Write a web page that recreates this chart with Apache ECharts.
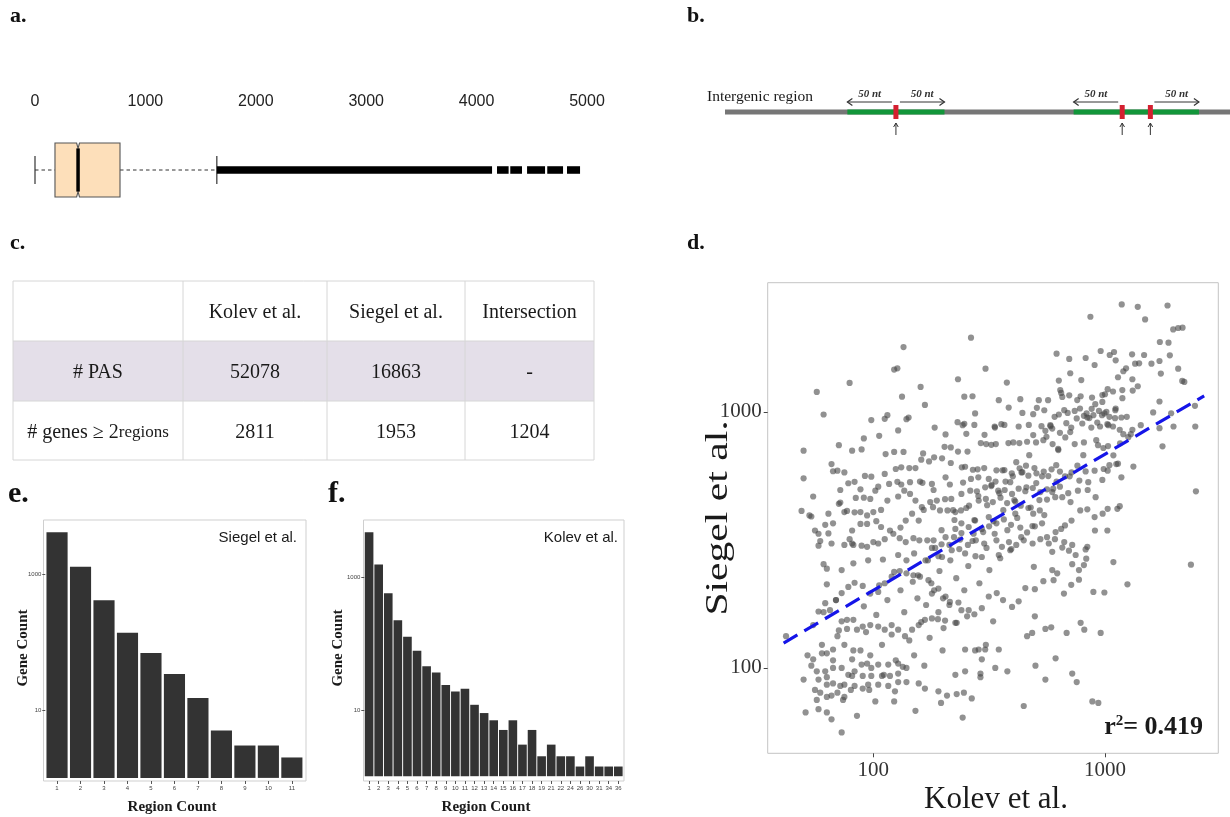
<!DOCTYPE html>
<html>
<head>
<meta charset="utf-8">
<script src="https://cdn.jsdelivr.net/npm/echarts@6/dist/echarts.min.js"></script>
<style>
  html, body { margin: 0; padding: 0; background: #ffffff; }
  #main { width: 1230px; height: 817px; }
</style>
</head>
<body>
<div id="main"></div>
<script>
// ---------- a. distance distribution (box summary and outlier runs) ----------
const boxStats = [0, 181, 390, 770, 1647];        // lower whisker, Q1, median, Q3, upper whisker
const notchRange = [377, 403];
const outlierRuns = [[1647, 4140], [4185, 4290], [4305, 4411], [4457, 4620], [4640, 4783], [4819, 4937]];

// ---------- b. PAS windows on an intergenic region (nt) ----------
const regionLengthNt = 520;
const pasSitesNt = [176, 409, 438];
const windowNt = 50;
const windowArrows = [[176, -1], [176, 1], [409, -1], [438, 1]];

// ---------- c. summary table ----------
const tableHeader = ['', 'Kolev et al.', 'Siegel et al.', 'Intersection'];
const pasRow = ['# PAS', '52078', '16863', '-'];
const genesRow = ['# genes \u2265 2', '2811', '1953', '1204'];

// ---------- e. Siegel et al. region counts ----------
const siegelRegionCounts = ['1', '2', '3', '4', '5', '6', '7', '8', '9', '10', '11'];
const siegelGeneCounts = [4160, 1290, 414, 138, 69, 34, 15, 5, 3, 3, 2];

// ---------- f. Kolev et al. region counts ----------
const kolevRegionCounts = ['1', '2', '3', '4', '5', '6', '7', '8', '9', '10', '11', '12', '13', '14', '15', '16',
  '17', '18', '19', '21', '22', '24', '26', '30', '31', '34', '36'];
const kolevGeneCounts = [4850, 1590, 581, 227, 128, 79, 46, 37, 24, 19, 21, 12, 9, 7, 5, 7,
  3, 5, 2, 3, 2, 2, 1.4, 2, 1.4, 1.4, 1.4];

// ---------- d. per-gene read counts, [Kolev et al., Siegel et al.] ----------
const pairedCounts = [
[1181,2626],[1385,2570],[1862,2600],[865,2350],[1490,2295],[2162,2130],[2070,2124],[1970,2098],[264,1947],[1725,1873],
[1880,1862],[1905,1661],[135,1790],[618,1686],[701,1608],[825,1622],[958,1727],[1048,1666],[1094,1712],[1309,1676],
[1475,1666],[1112,1589],[902,1523],[1349,1541],[1404,1546],[1587,1541],[1719,1579],[1233,1478],[1200,1440],[1742,1410],
[2070,1474],[127,1478],[123,1461],[305,1474],[708,1414],[1138,1364],[1313,1340],[1385,1258],[2155,1320],[2200,1308],
[232,1340],[377,1300],[79,1296],[632,1324],[57,1196],[160,1250],[1027,1225],[1083,1200],[1000,1171],[1317,1210],
[1719,1097],[133,1146],[247,1146],[268,1150],[431,1120],[518,1110],[568,1110],[647,1185],[654,1143],[701,1160],
[785,1150],[879,1136],[908,1071],[974,1093],[1189,1130],[2445,1055],[348,1110],[167,1064],[61,976],[1930,987],
[1614,994],[1112,1030],[1014,1000],[942,1008],[876,1027],[833,985],[811,964],[780,1030],[740,1008],[690,990],
[632,976],[606,956],[547,1014],[508,1036],[490,979],[440,990],[384,1039],[275,985],[273,889],[247,898],
[231,911],[243,887],[334,876],[357,895],[368,889],[469,889],[532,879],[582,879],[681,903],[755,942],
[798,900],[839,950],[891,970],[926,908],[971,970],[994,985],[1045,956],[1105,944],[1177,950],[1242,956],
[1427,887],[1313,851],[1200,818],[1158,851],[1083,876],[1024,895],[952,876],[873,868],[715,868],[639,828],
[592,860],[553,843],[490,811],[424,876],[335,868],[302,813],[252,820],[205,816],[184,868],[142,950],
[139,936],[115,970],[112,939],[98,928],[128,846],[106,806],[91,787],[71,741],[81,705],[89,713],
[50,705],[113,684],[123,697],[135,697],[164,688],[203,730],[216,726],[232,699],[255,699],[291,755],
[307,748],[323,743],[338,748],[383,755],[402,759],[427,755],[461,764],[504,759],[559,799],[594,748],
[628,716],[674,794],[740,748],[811,759],[933,741],[984,722],[1031,735],[1087,676],[1138,627],[1771,733],
[1976,876],[2453,876],[1719,863],[1292,818],[1162,753],[1326,611],[1045,619],[987,598],[902,589],[825,585],
[760,616],[704,560],[639,584],[588,596],[544,584],[496,603],[456,616],[428,602],[396,575],[361,591],
[340,591],[301,603],[282,596],[269,594],[249,610],[241,607],[216,631],[198,658],[183,664],[174,640],
[161,650],[152,603],[143,603],[132,607],[125,598],[112,572],[98,558],[92,562],[83,533],[78,526],
[72,495],[70,589],[66,625],[67,586],[75,580],[50,550],[55,467],[49,410],[54,390],[88,498],
[84,461],[91,462],[97,457],[102,492],[105,510],[117,523],[127,533],[132,520],[144,531],[159,534],
[163,528],[179,523],[182,495],[205,555],[214,520],[244,529],[264,547],[284,555],[315,547],[337,534],
[372,534],[400,560],[436,580],[467,563],[506,575],[535,560],[618,534],[672,560],[717,580],[775,539],
[847,531],[911,464],[974,542],[1027,589],[1119,625],[1177,555],[2469,489],[842,495],[764,492],[694,481],
[639,510],[598,501],[562,498],[526,486],[488,504],[458,507],[424,501],[397,478],[369,495],[346,492],
[324,518],[304,507],[280,489],[262,492],[240,478],[217,457],[204,456],[188,450],[176,444],[162,424],
[152,450],[144,478],[136,492],[128,467],[115,450],[108,414],[100,406],[94,394],[88,406],[83,405],
[75,406],[71,437],[72,442],[64,400],[62,362],[58,334],[56,344],[53,394],[64,335],[67,367],
[77,410],[81,344],[79,318],[88,365],[94,365],[103,374],[108,355],[118,344],[131,353],[138,376],
[147,400],[157,376],[165,414],[181,424],[194,412],[209,412],[226,406],[239,412],[259,430],[285,450],
[306,457],[328,444],[354,462],[378,440],[410,446],[433,430],[478,423],[523,412],[562,454],[610,464],
[654,464],[710,444],[782,412],[839,416],[902,388],[977,400],[1027,418],[1131,418],[1158,428],[1024,344],
[905,344],[717,376],[672,360],[647,349],[612,339],[562,324],[535,367],[498,357],[461,338],[431,353],
[393,362],[366,380],[340,367],[316,357],[294,349],[271,334],[258,355],[240,367],[226,349],[205,324],
[197,304],[179,294],[171,315],[158,315],[149,321],[138,310],[130,321],[122,334],[112,318],[105,306],
[100,310],[94,297],[89,300],[82,302],[75,302],[66,306],[58,300],[839,297],[722,302],[667,310],
[608,318],[572,306],[526,318],[487,306],[446,315],[414,302],[385,310],[359,297],[334,334],[301,306],
[277,315],[256,302],[237,317],[223,324],[315,388],[275,376],[410,400],[490,400],
[42,133],[61,254],[63,244],[59,313],[81,306],[592,284],[654,295],[699,287],[747,276],[825,290],
[830,267],[1087,259],[2349,253],[1250,212],[891,198],[994,197],[665,195],[715,211],[772,221],[600,220],
[542,218],[498,203],[453,205],[424,182],[397,173],[363,184],[341,196],[315,190],[294,171],[273,162],
[258,168],[233,180],[214,181],[200,187],[191,204],[179,195],[173,220],[159,227],[148,217],[139,234],
[130,239],[120,227],[112,214],[105,198],[97,195],[90,209],[83,215],[78,207],[73,196],[69,184],
[65,168],[62,179],[58,166],[63,212],[73,241],[82,256],[95,263],[110,265],[128,276],[150,280],
[172,263],[191,273],[218,288],[249,280],[294,271],[348,276],[390,288],[493,248],[592,241],[622,234],
[722,254],[811,252],[772,241],[498,159],[461,133],[485,137],[553,142],[586,144],[683,137],[785,150],
[814,141],[958,137],[329,152],[306,123],[285,118],[275,117],[304,118],[348,118],[294,108],[249,118],
[254,159],[229,150],[204,153],[190,155],[179,156],[167,154],[157,147],[147,141],[137,133],[128,141],
[120,135],[112,141],[105,145],[97,147],[90,145],[85,141],[77,142],[70,133],[73,152],[82,154],
[75,123],[67,118],[63,114],[60,114],[52,112],[55,108],[57,97],[62,97],[67,100],[73,100],
[81,108],[83,97],[89,103],[94,104],[97,112],[105,103],[116,103],[128,104],[134,101],[139,100],
[128,95],[118,93],[109,93],[98,93],[90,93],[81,93],[75,86],[72,85],[67,87],[63,92],
[58,90],[56,82],[59,80],[63,77],[66,78],[70,80],[75,77],[83,85],[90,83],[95,86],
[105,86],[116,85],[124,81],[139,88],[157,87],[167,83],[191,81],[208,78],[229,79],[246,80],
[266,76],[226,94],[249,97],[290,95],[290,92],[336,100],[379,97],[501,102],[553,90],[612,109],
[722,95],[755,88],[446,71],[936,73],[58,69],[63,67],[73,56],[102,74],[123,74],[152,68],
[196,73],[243,64],[882,74],
[178,214],[193,239],[205,190],[215,263],[228,224],[235,291],[247,201],[257,250],[268,313],[276,273],
[287,214],[298,339],[308,294],[317,241],[330,374],[340,315],[353,268],[364,413],[379,345],[394,291],
[406,452],[418,385],[435,324],[453,490],[467,421],[486,358],[505,527],[521,452],[547,395],[569,561],
[592,486],[616,619],[240,336],[273,378],[310,432],[350,481],[390,531],[440,581],[213,302],[198,271],
[185,294],[224,378],[252,421],[284,469],[323,513],[368,592],[414,636],[471,677],[197,345],[221,413],
[168,263],[156,230],[182,315],
[88,117],[93,138],[98,100],[103,161],[109,123],[115,184],[120,147],[125,107],[131,201],[136,165],
[143,128],[149,230],[155,187],[161,151],[169,176],[175,131],[183,201],[191,165],[201,143],[91,174],
[106,210],[123,237],[139,263],[96,82],[111,94],[128,88],[150,112],[166,102],[199,117],[213,176],
[226,150],[240,168],
[50,90],[54,102],[57,75],[60,123],[63,86],[67,107],[71,140],[74,75],[78,94],[82,117],
[85,65],[55,147],[61,165],[69,184],[77,154],[51,67],[66,63],[80,82],
[542,775],[581,887],[629,709],[667,1015],[708,833],[759,1111],[806,677],[856,945],[917,775],[974,1162],
[1034,887],[1108,1015],[1188,1216],[1261,796],[641,1216],[790,1330]
];
const fitLine = [[41, 125], [2680, 1154]];
const rSquared = '0.419';

// ---------- drawing ----------
const SERIF = '"Liberation Serif", "Times New Roman", serif';
const SANS = '"Liberation Sans", Arial, sans-serif';
const plainNumber = v => String(Math.round(v));

function mergedWindows(sites, w) {
  const spans = sites.map(s => [s - w, s + w]).sort((a, b) => a[0] - b[0]);
  const out = [];
  spans.forEach(sp => {
    const last = out[out.length - 1];
    if (last && sp[0] <= last[1]) last[1] = Math.max(last[1], sp[1]);
    else out.push(sp.slice());
  });
  return out;
}

function renderBox(params, api) {
  const cat = api.value(7);
  const v = [0, 1, 2, 3, 4, 5, 6].map(i => api.value(i));
  const [low, q1, med, q3, high, nLo, nHi] = v;
  const X = val => api.coord([val, cat])[0];
  const cy = api.coord([0, cat])[1];
  const band = api.size([0, 1])[1];
  const h = band * 0.3, cap = band * 0.155, inset = band * 0.06;
  const dash = { stroke: '#333', lineWidth: 1, lineDash: [3.5, 3] };
  const solid = { stroke: '#333', lineWidth: 1.2 };
  return {
    type: 'group',
    children: [
      { type: 'line', shape: { x1: X(low), y1: cy, x2: X(q1), y2: cy }, style: dash },
      { type: 'line', shape: { x1: X(low), y1: cy - cap, x2: X(low), y2: cy + cap }, style: solid },
      { type: 'line', shape: { x1: X(q3), y1: cy, x2: X(high), y2: cy }, style: dash },
      { type: 'line', shape: { x1: X(high), y1: cy - cap, x2: X(high), y2: cy + cap }, style: solid },
      {
        type: 'polygon',
        shape: { points: [
          [X(q1), cy - h], [X(nLo), cy - h], [X(med), cy - h + inset], [X(nHi), cy - h], [X(q3), cy - h],
          [X(q3), cy + h], [X(nHi), cy + h], [X(med), cy + h - inset], [X(nLo), cy + h], [X(q1), cy + h]
        ] },
        style: { fill: '#FDDFBA', stroke: '#555', lineWidth: 1.1 }
      },
      { type: 'line', shape: { x1: X(med), y1: cy - h + inset, x2: X(med), y2: cy + h - inset },
        style: { stroke: '#000', lineWidth: 3.5 } }
    ]
  };
}

function renderOutlierRun(params, api) {
  const cat = api.value(2);
  const x1 = api.coord([api.value(0), cat])[0];
  const x2 = api.coord([api.value(1), cat])[0];
  const cy = api.coord([0, cat])[1];
  const band = api.size([0, 1])[1];
  const hh = band * 0.042;
  return { type: 'rect', shape: { x: x1, y: cy - hh, width: x2 - x1, height: hh * 2 }, style: { fill: '#000' } };
}

function renderRegion(params, api) {
  const X = nt => api.coord([nt, 0])[0];
  const cy = api.coord([0, 0])[1];
  const kids = [];
  kids.push({ type: 'rect', shape: { x: X(0), y: cy - 2.6, width: X(regionLengthNt) - X(0), height: 5.2 },
    style: { fill: '#767676' } });
  mergedWindows(pasSitesNt, windowNt).forEach(w => {
    kids.push({ type: 'rect', shape: { x: X(w[0]), y: cy - 2.6, width: X(w[1]) - X(w[0]), height: 5.2 },
      style: { fill: '#12963a' } });
  });
  pasSitesNt.forEach(s => {
    const x = X(s);
    kids.push({ type: 'rect', shape: { x: x - 2.5, y: cy - 7, width: 5, height: 14 }, style: { fill: '#d42030' } });
    kids.push({ type: 'line', shape: { x1: x, y1: cy + 23, x2: x, y2: cy + 11 }, style: { stroke: '#333', lineWidth: 1 } });
    kids.push({ type: 'polyline', shape: { points: [[x - 2.3, cy + 15], [x, cy + 11], [x + 2.3, cy + 15]] },
      style: { stroke: '#333', lineWidth: 1, fill: null } });
  });
  windowArrows.forEach(([s, dir]) => {
    const xs = X(s) + dir * 4;
    const xe = X(s + dir * windowNt);
    const ya = cy - 10;
    kids.push({ type: 'line', shape: { x1: xs, y1: ya, x2: xe, y2: ya }, style: { stroke: '#333', lineWidth: 1 } });
    kids.push({ type: 'polyline', shape: { points: [[xe - dir * 5, ya - 3.5], [xe, ya], [xe - dir * 5, ya + 3.5]] },
      style: { stroke: '#333', lineWidth: 1.2, fill: null } });
    kids.push({ type: 'text', style: { text: windowNt + ' nt', x: (xs + xe) / 2, y: ya - 8, align: 'center',
      verticalAlign: 'middle', font: 'italic bold 11px ' + SERIF, fill: '#333' } });
  });
  return { type: 'group', children: kids };
}

// summary table as graphic elements
const colEdges = [13, 183, 327, 465, 594];
const rowEdges = [281, 341, 401, 460];
const tableRows = [tableHeader, pasRow, genesRow];
const tableGraphics = [];
tableGraphics.push({ type: 'rect', shape: { x: colEdges[0], y: rowEdges[1], width: colEdges[4] - colEdges[0], height: rowEdges[2] - rowEdges[1] },
  style: { fill: '#E4DFE9' } });
rowEdges.forEach(y => tableGraphics.push({ type: 'line', shape: { x1: colEdges[0], y1: y, x2: colEdges[4], y2: y },
  style: { stroke: '#d6d6d6', lineWidth: 1 } }));
colEdges.forEach(x => tableGraphics.push({ type: 'line', shape: { x1: x, y1: rowEdges[0], x2: x, y2: rowEdges[3] },
  style: { stroke: '#d6d6d6', lineWidth: 1 } }));
tableRows.forEach((row, r) => {
  row.forEach((cell, c) => {
    if (!cell) return;
    const cx = (colEdges[c] + colEdges[c + 1]) / 2;
    const cyy = (rowEdges[r] + rowEdges[r + 1]) / 2 + 2;
    if (r === 2 && c === 0) {
      tableGraphics.push({ type: 'text', x: cx, y: cyy, style: {
        text: '{a|' + cell + '}{b|regions}', align: 'center', verticalAlign: 'middle',
        rich: { a: { font: '20px ' + SERIF, fill: '#1a1a1a' }, b: { font: '17px ' + SERIF, fill: '#1a1a1a' } } } });
    } else {
      tableGraphics.push({ type: 'text', x: cx, y: cyy, style: { text: cell, align: 'center', verticalAlign: 'middle',
        font: '20px ' + SERIF, fill: '#1a1a1a' } });
    }
  });
});

function panelLabel(text, x, y, size) {
  return { type: 'text', x: x, y: y, style: { text: text, font: 'bold ' + size + 'px ' + SERIF, fill: '#111',
    align: 'left', verticalAlign: 'middle' } };
}
function plainText(text, x, y, font, align, rotation, stretch) {
  return { type: 'text', x: x, y: y, rotation: rotation || 0, scaleX: stretch || 1,
    style: { text: text, font: font, fill: '#1a1a1a', align: align || 'center', verticalAlign: 'middle' } };
}

const smallAxisLabel = { fontSize: 6, color: '#444', fontFamily: SANS, formatter: plainNumber };

const option = {
  animation: false,
  backgroundColor: '#ffffff',
  grid: [
    { left: 35, top: 125, width: 552, height: 90 },                 // a
    { left: 725, top: 87, width: 505, height: 50 },                  // b
    { left: 767.7, top: 282.7, width: 450.6, height: 470.6, show: true, borderColor: '#c4c4c4', borderWidth: 1 }, // d
    { left: 45.3, top: 520, width: 258.3, height: 261 },             // e
    { left: 364.3, top: 520, width: 258.8, height: 261 }             // f
  ],
  xAxis: [
    { gridIndex: 0, type: 'value', position: 'top', min: 0, max: 5000, interval: 1000,
      axisLine: { lineStyle: { color: '#444', width: 1.2 } },
      axisTick: { length: 9, lineStyle: { color: '#444', width: 1.2 } },
      axisLabel: { fontFamily: SANS, fontSize: 16, color: '#222', margin: 15, formatter: plainNumber },
      splitLine: { show: false } },
    { gridIndex: 1, type: 'value', min: 0, max: regionLengthNt, show: false },
    { gridIndex: 2, type: 'log', min: 35, max: 3084,
      axisLine: { show: false },
      axisTick: { show: true, length: 4, lineStyle: { color: '#444' }, customValues: [100, 1000] },
      axisLabel: { fontFamily: SERIF, fontSize: 21, color: '#333', margin: 7, customValues: [100, 1000], formatter: plainNumber },
      splitLine: { show: false } },
    { gridIndex: 3, type: 'category', data: siegelRegionCounts,
      axisLine: { show: false }, axisTick: { show: true, alignWithLabel: true, length: 3, lineStyle: { color: '#555' } },
      axisLabel: { interval: 0, margin: 4, fontSize: 6, color: '#444', fontFamily: SANS } },
    { gridIndex: 4, type: 'category', data: kolevRegionCounts,
      axisLine: { show: false }, axisTick: { show: true, alignWithLabel: true, length: 3, lineStyle: { color: '#555' } },
      axisLabel: { interval: 0, margin: 4, fontSize: 6, color: '#444', fontFamily: SANS } }
  ],
  yAxis: [
    { gridIndex: 0, type: 'category', data: ['PAS'], show: false },
    { gridIndex: 1, type: 'category', data: ['region'], show: false },
    { gridIndex: 2, type: 'log', min: 46.4, max: 3192,
      axisLine: { show: false },
      axisTick: { show: true, length: 4, lineStyle: { color: '#444' }, customValues: [100, 1000] },
      axisLabel: { fontFamily: SERIF, fontSize: 21, color: '#333', margin: 6, customValues: [100, 1000], formatter: plainNumber },
      splitLine: { show: false } },
    { gridIndex: 3, type: 'log', min: 0.9, max: 6310,
      axisLine: { show: false },
      axisTick: { show: true, length: 3, lineStyle: { color: '#555' }, customValues: [10, 1000] },
      axisLabel: Object.assign({ margin: 4, customValues: [10, 1000] }, smallAxisLabel),
      splitLine: { show: false } },
    { gridIndex: 4, type: 'log', min: 0.846, max: 7450,
      axisLine: { show: false },
      axisTick: { show: true, length: 3, lineStyle: { color: '#555' }, customValues: [10, 1000] },
      axisLabel: Object.assign({ margin: 4, customValues: [10, 1000] }, smallAxisLabel),
      splitLine: { show: false } }
  ],
  series: [
    { type: 'custom', xAxisIndex: 0, yAxisIndex: 0, renderItem: renderBox,
      data: [[...boxStats, ...notchRange, 0]], encode: { x: [0, 1, 2, 3, 4, 5, 6], y: 7 } },
    { type: 'custom', xAxisIndex: 0, yAxisIndex: 0, renderItem: renderOutlierRun,
      data: outlierRuns.map(r => [r[0], r[1], 0]), encode: { x: [0, 1], y: 2 } },
    { type: 'custom', xAxisIndex: 1, yAxisIndex: 1, renderItem: renderRegion,
      data: [[0, 0]], encode: { x: 0, y: 1 } },
    { type: 'scatter', xAxisIndex: 2, yAxisIndex: 2, data: pairedCounts, symbolSize: 6.2,
      itemStyle: { color: 'rgba(70,70,70,0.74)' }, z: 2 },
    { type: 'line', xAxisIndex: 2, yAxisIndex: 2, data: fitLine, symbol: 'none',
      lineStyle: { color: '#1515e8', width: 3.2, type: [16, 8] }, z: 3 },
    { type: 'bar', xAxisIndex: 3, yAxisIndex: 3, data: siegelGeneCounts, barCategoryGap: '10%',
      itemStyle: { color: '#333333' } },
    { type: 'bar', xAxisIndex: 4, yAxisIndex: 4, data: kolevGeneCounts, barCategoryGap: '10%',
      itemStyle: { color: '#333333' } }
  ],
  graphic: [
    panelLabel('a.', 10, 16, 22),
    panelLabel('b.', 687, 16, 22),
    panelLabel('c.', 10, 243, 22),
    panelLabel('d.', 687, 243, 22),
    panelLabel('e.', 8, 494, 30),
    panelLabel('f.', 328, 494, 30),
    plainText('Intergenic region', 707, 97, '15.5px ' + SERIF, 'left'),
    ...tableGraphics,
    { type: 'rect', shape: { x: 43.5, y: 520, width: 262.5, height: 261 }, style: { fill: 'none', stroke: '#cfcfcf', lineWidth: 1 } },
    { type: 'rect', shape: { x: 363.5, y: 520, width: 260.5, height: 261 }, style: { fill: 'none', stroke: '#cfcfcf', lineWidth: 1 } },
    plainText('Siegel et al.', 297, 538, '15px ' + SANS, 'right'),
    plainText('Kolev et al.', 618, 538, '15px ' + SANS, 'right'),
    plainText('Gene Count', 23, 648, 'bold 15px ' + SERIF, 'center', Math.PI / 2),
    plainText('Gene Count', 338, 648, 'bold 15px ' + SERIF, 'center', Math.PI / 2),
    plainText('Region Count', 172, 807, 'bold 15px ' + SERIF, 'center'),
    plainText('Region Count', 486, 807, 'bold 15px ' + SERIF, 'center'),
    plainText('Siegel et al.', 719, 518, '32px ' + SERIF, 'center', Math.PI / 2, 1.3),
    plainText('Kolev et al.', 996, 800, '31px ' + SERIF, 'center'),
    { type: 'text', x: 1203, y: 727, style: { text: '{r|r}{s|2}{r|= ' + rSquared + '}', align: 'right', verticalAlign: 'middle',
      rich: { r: { font: 'bold 26px ' + SERIF, fill: '#1a1a1a', verticalAlign: 'bottom' },
              s: { font: 'bold 15px ' + SERIF, fill: '#1a1a1a', verticalAlign: 'top' } } } }
  ]
};

const chart = echarts.init(document.getElementById('main'), null, { renderer: 'canvas', width: 1230, height: 817 });
chart.setOption(option);
</script>
</body>
</html>
